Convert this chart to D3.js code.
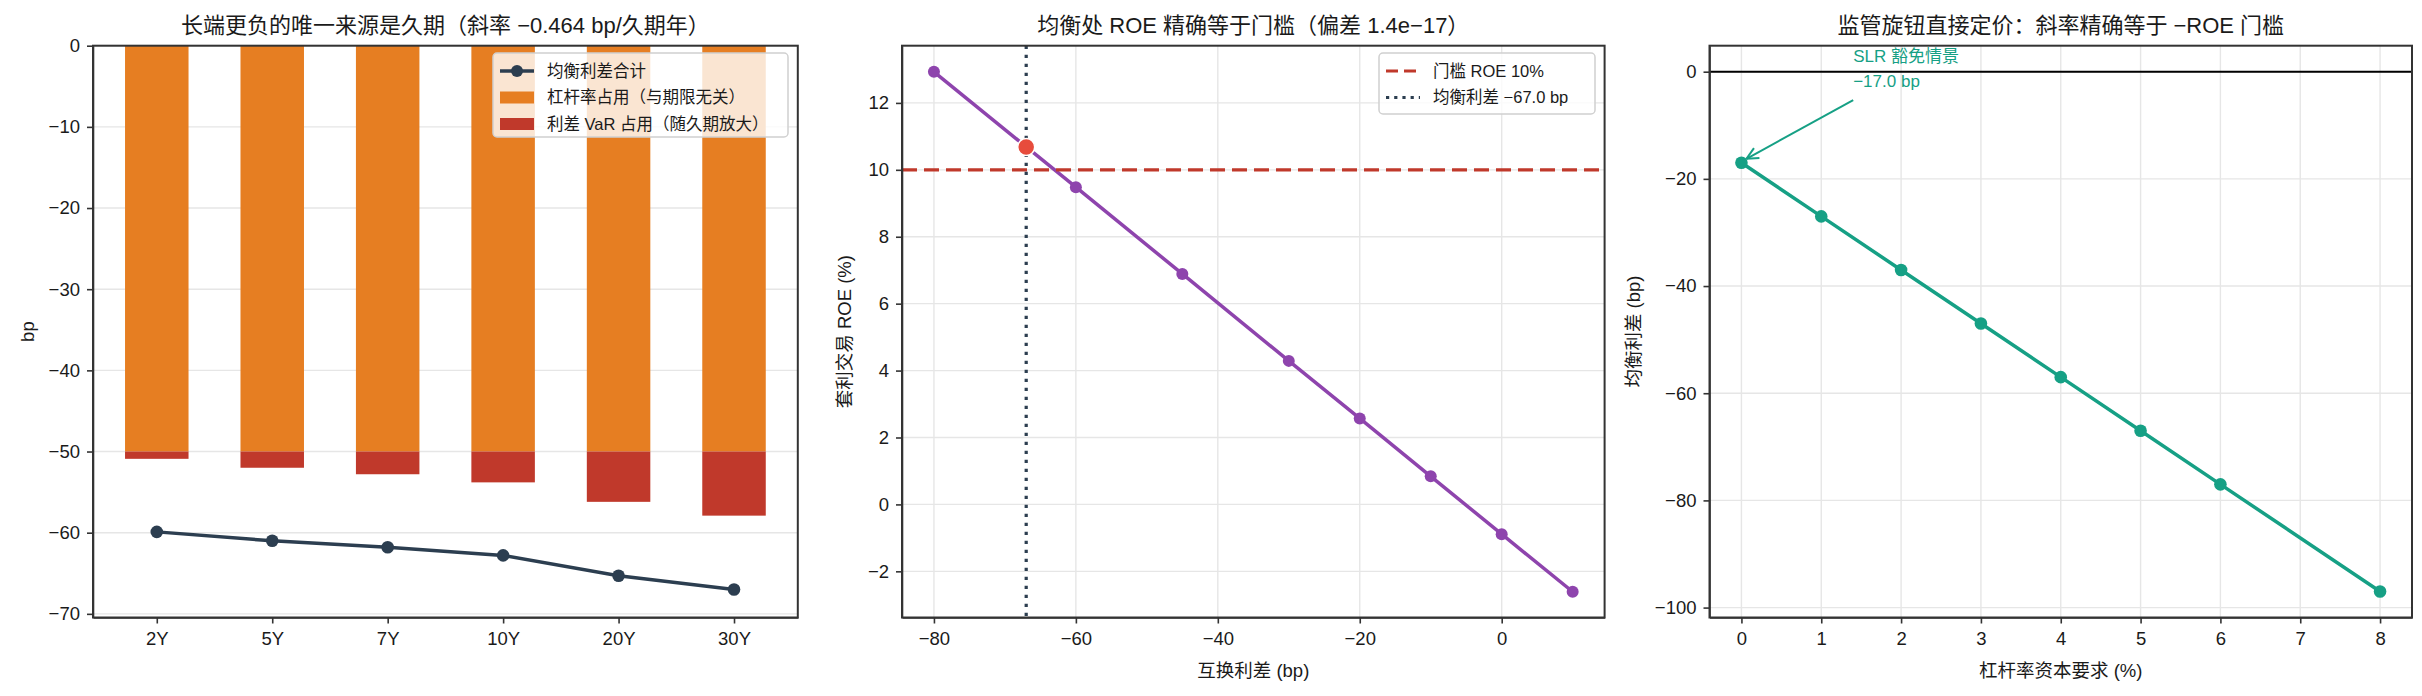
<!DOCTYPE html>
<html>
<head>
<meta charset="utf-8">
<script src="https://cdn.jsdelivr.net/npm/d3@7"></script>
<style>
    body { margin: 0; background: #fff; }
    svg text { font-family: "Liberation Sans", "Noto Sans CJK SC", sans-serif; fill: #1a1a1a; }
    .axis path, .axis line { stroke: #333; stroke-width: 1.6; }
    .axis text { font-size: 18.5px; }
    .grid line { stroke: #e6e6e6; stroke-width: 1.4; }
</style>
</head>
<body>
<svg id="chart" width="2422" height="696"></svg>
<script>
// panel 1: spread by tenor
const tenors = ["2Y", "5Y", "7Y", "10Y", "20Y", "30Y"];
const leverageUse = [-50, -50, -50, -50, -50, -50];
const varUse = [-0.9, -2.0, -2.8, -3.8, -6.2, -7.9];
const totalSpread = [-59.9, -61.0, -61.8, -62.8, -65.3, -67.0];

// panel 2: arbitrage ROE vs swap spread
const swapSpread = [-80, -60, -45, -30, -20, -10, 0, 10];
const arbRoe = [12.93, 9.48, 6.89, 4.29, 2.57, 0.84, -0.89, -2.61];
const roeHurdle = 10;
const eqSpread = -67.0;
const eqRoe = 10.68;

// panel 3: leverage requirement vs equilibrium spread
const slrReq = [0, 1, 2, 3, 4, 5, 6, 8];
const slrSpread = [-17, -27, -37, -47, -57, -67, -77, -97];

const TOP = 45.7, BOTTOM = 617.5;
const svg = d3.select("#chart");
svg.append("rect").attr("width", 2422).attr("height", 696).attr("fill", "#fff");

function frame(x, y, opts) {
    let g = svg.append("g");
    // grids
    if (opts.ygrid) {
        g.append("g").attr("class", "grid")
            .selectAll("line").data(opts.yticks).enter().append("line")
            .attr("x1", x.range()[0]).attr("x2", x.range()[1])
            .attr("y1", d => y(d)).attr("y2", d => y(d));
    }
    if (opts.xgrid) {
        g.append("g").attr("class", "grid")
            .selectAll("line").data(opts.xticks).enter().append("line")
            .attr("y1", TOP).attr("y2", BOTTOM)
            .attr("x1", d => x(d)).attr("x2", d => x(d));
    }
    return g;
}

function axesOn(g, x, y, opts) {
    g.append("g").attr("class", "axis")
        .attr("transform", "translate(0," + BOTTOM + ")")
        .call(d3.axisBottom(x).tickValues(opts.xticks).tickFormat(opts.xfmt || d3.format("d"))
            .tickSize(6).tickPadding(8).tickSizeOuter(0));
    g.append("g").attr("class", "axis")
        .attr("transform", "translate(" + x.range()[0] + ",0)")
        .call(d3.axisLeft(y).tickValues(opts.yticks).tickFormat(d3.format("d"))
            .tickSize(6).tickPadding(7).tickSizeOuter(0));
    // full box
    g.append("rect")
        .attr("x", x.range()[0]).attr("y", TOP)
        .attr("width", x.range()[1] - x.range()[0]).attr("height", BOTTOM - TOP)
        .attr("fill", "none").attr("stroke", "#333").attr("stroke-width", 2);
    let cx = (x.range()[0] + x.range()[1]) / 2;
    g.append("text").attr("x", cx).attr("y", 33).attr("text-anchor", "middle")
        .style("font-size", "22px").text(opts.title);
    if (opts.xlabel) {
        g.append("text").attr("x", cx).attr("y", 677).attr("text-anchor", "middle")
            .style("font-size", "18.5px").text(opts.xlabel);
    }
    g.append("text")
        .attr("transform", "translate(" + opts.ylabelX + "," + ((TOP + BOTTOM) / 2) + ") rotate(-90)")
        .attr("text-anchor", "middle").attr("dy", "0.35em")
        .style("font-size", "18.5px").text(opts.ylabel);
}

function legend(x0, y0, w, h, items) {
    let lg = svg.append("g");
    lg.append("rect").attr("x", x0).attr("y", y0).attr("width", w).attr("height", h)
        .attr("rx", 4).attr("fill", "#fff").attr("fill-opacity", 0.8)
        .attr("stroke", "#d0d0d0").attr("stroke-width", 1.5);
    items.forEach(function (it, i) {
        let cy = y0 + 18 + i * 26.5;
        let hx = x0 + 7;
        if (it.type == "rect") {
            lg.append("rect").attr("x", hx).attr("y", cy - 6).attr("width", 34).attr("height", 12).attr("fill", it.color);
        } else {
            lg.append("line").attr("x1", hx).attr("x2", hx + 34).attr("y1", cy).attr("y2", cy)
                .attr("stroke", it.color).attr("stroke-width", it.width || 3.5)
                .attr("stroke-dasharray", it.dash || null);
            if (it.marker) lg.append("circle").attr("cx", hx + 17).attr("cy", cy).attr("r", 6).attr("fill", it.color);
        }
        lg.append("text").attr("x", hx + 47).attr("y", cy).attr("dy", "0.35em")
            .style("font-size", "16.5px").text(it.label);
    });
}

// ---------- panel 1 ----------
{
    let x = d3.scaleLinear().domain([-0.5525, 5.5525]).range([93, 797.8]);
    let y = d3.scaleLinear().domain([-70.45, 0]).range([BOTTOM, TOP]);
    let yticks = [0, -10, -20, -30, -40, -50, -60, -70];
    let idx = d3.range(tenors.length);
    let g = frame(x, y, { ygrid: true, yticks: yticks });
    let bw = x(0.275) - x(-0.275);
    g.selectAll(".lev").data(idx).enter().append("rect")
        .attr("x", i => x(i) - bw / 2).attr("width", bw)
        .attr("y", y(0)).attr("height", i => y(leverageUse[i]) - y(0))
        .attr("fill", "#e67e22");
    g.selectAll(".var").data(idx).enter().append("rect")
        .attr("x", i => x(i) - bw / 2).attr("width", bw)
        .attr("y", i => y(leverageUse[i]))
        .attr("height", i => y(leverageUse[i] + varUse[i]) - y(leverageUse[i]))
        .attr("fill", "#c0392b");
    g.append("path").datum(idx)
        .attr("d", d3.line().x(i => x(i)).y(i => y(totalSpread[i])))
        .attr("fill", "none").attr("stroke", "#2c3e50").attr("stroke-width", 3.5);
    g.selectAll(".pt").data(idx).enter().append("circle")
        .attr("cx", i => x(i)).attr("cy", i => y(totalSpread[i])).attr("r", 6.3)
        .attr("fill", "#2c3e50");
    axesOn(g, x, y, {
        xticks: idx, xfmt: i => tenors[i], yticks: yticks,
        title: "长端更负的唯一来源是久期（斜率 −0.464 bp/久期年）",
        ylabel: "bp", ylabelX: 28
    });
    legend(493, 53, 295, 84, [
        { type: "line", color: "#2c3e50", marker: true, label: "均衡利差合计" },
        { type: "rect", color: "#e67e22", label: "杠杆率占用（与期限无关）" },
        { type: "rect", color: "#c0392b", label: "利差 VaR 占用（随久期放大）" }
    ]);
}

// ---------- panel 2 ----------
{
    let x = d3.scaleLinear().domain([-84.5, 14.5]).range([902, 1604.6]);
    let y = d3.scaleLinear().domain([-3.38, 13.71]).range([BOTTOM, TOP]);
    let xticks = [-80, -60, -40, -20, 0];
    let yticks = [-2, 0, 2, 4, 6, 8, 10, 12];
    let g = frame(x, y, { ygrid: true, xgrid: true, yticks: yticks, xticks: xticks });
    let idx = d3.range(swapSpread.length);
    g.append("path").datum(idx)
        .attr("d", d3.line().x(i => x(swapSpread[i])).y(i => y(arbRoe[i])))
        .attr("fill", "none").attr("stroke", "#8e44ad").attr("stroke-width", 3.5);
    g.selectAll(".pt").data(idx).enter().append("circle")
        .attr("cx", i => x(swapSpread[i])).attr("cy", i => y(arbRoe[i])).attr("r", 6)
        .attr("fill", "#8e44ad");
    g.append("line").attr("x1", x.range()[0]).attr("x2", x.range()[1])
        .attr("y1", y(roeHurdle)).attr("y2", y(roeHurdle))
        .attr("stroke", "#c0392b").attr("stroke-width", 3.2).attr("stroke-dasharray", "15,7");
    g.append("line").attr("x1", x(eqSpread)).attr("x2", x(eqSpread))
        .attr("y1", TOP).attr("y2", BOTTOM)
        .attr("stroke", "#2c3e50").attr("stroke-width", 3.2).attr("stroke-dasharray", "3.2,5.8");
    g.append("circle").attr("cx", x(eqSpread)).attr("cy", y(eqRoe)).attr("r", 8.5)
        .attr("fill", "#e74c3c").attr("stroke", "#fff").attr("stroke-width", 1.5);
    axesOn(g, x, y, {
        xticks: xticks, yticks: yticks,
        title: "均衡处 ROE 精确等于门槛（偏差 1.4e−17）",
        xlabel: "互换利差 (bp)", ylabel: "套利交易 ROE (%)", ylabelX: 845
    });
    legend(1379, 53, 216, 61, [
        { type: "line", color: "#c0392b", dash: "12,6", width: 3.2, label: "门槛 ROE 10%" },
        { type: "line", color: "#2c3e50", dash: "3.2,5", width: 3.2, label: "均衡利差 −67.0 bp" }
    ]);
}

// ---------- panel 3 ----------
{
    let x = d3.scaleLinear().domain([-0.4, 8.4]).range([1709.5, 2412]);
    let y = d3.scaleLinear().domain([-101.85, 4.85]).range([BOTTOM, TOP]);
    let xticks = d3.range(0, 9);
    let yticks = [-100, -80, -60, -40, -20, 0];
    let g = frame(x, y, { ygrid: true, xgrid: true, yticks: yticks, xticks: xticks });
    let idx = d3.range(slrReq.length);
    g.append("line").attr("x1", x.range()[0]).attr("x2", x.range()[1])
        .attr("y1", y(0)).attr("y2", y(0)).attr("stroke", "#000").attr("stroke-width", 2);
    g.append("path").datum(idx)
        .attr("d", d3.line().x(i => x(slrReq[i])).y(i => y(slrSpread[i])))
        .attr("fill", "none").attr("stroke", "#16a085").attr("stroke-width", 3.5);
    g.selectAll(".pt").data(idx).enter().append("circle")
        .attr("cx", i => x(slrReq[i])).attr("cy", i => y(slrSpread[i])).attr("r", 6.3)
        .attr("fill", "#16a085");
    // annotation
    let tx = x(1.4), ty = y(-5.3);
    let px = x(slrReq[0]) + 5, py = y(slrSpread[0]) - 4;
    let ang = Math.atan2(py - ty, px - tx);
    g.append("line").attr("x1", tx).attr("y1", ty).attr("x2", px).attr("y2", py)
        .attr("stroke", "#16a085").attr("stroke-width", 2);
    [0.45, -0.45].forEach(function (a) {
        g.append("line").attr("x1", px).attr("y1", py)
            .attr("x2", px - 13 * Math.cos(ang + a)).attr("y2", py - 13 * Math.sin(ang + a))
            .attr("stroke", "#16a085").attr("stroke-width", 2);
    });
    g.append("text").attr("x", tx).attr("y", ty - 38).style("font-size", "17px")
        .style("fill", "#16a085").text("SLR 豁免情景");
    g.append("text").attr("x", tx).attr("y", ty - 13).style("font-size", "17px")
        .style("fill", "#16a085").text("−17.0 bp");
    axesOn(g, x, y, {
        xticks: xticks, yticks: yticks,
        title: "监管旋钮直接定价：斜率精确等于 −ROE 门槛",
        xlabel: "杠杆率资本要求 (%)", ylabel: "均衡利差 (bp)", ylabelX: 1634
    });
}
</script>
</body>
</html>
